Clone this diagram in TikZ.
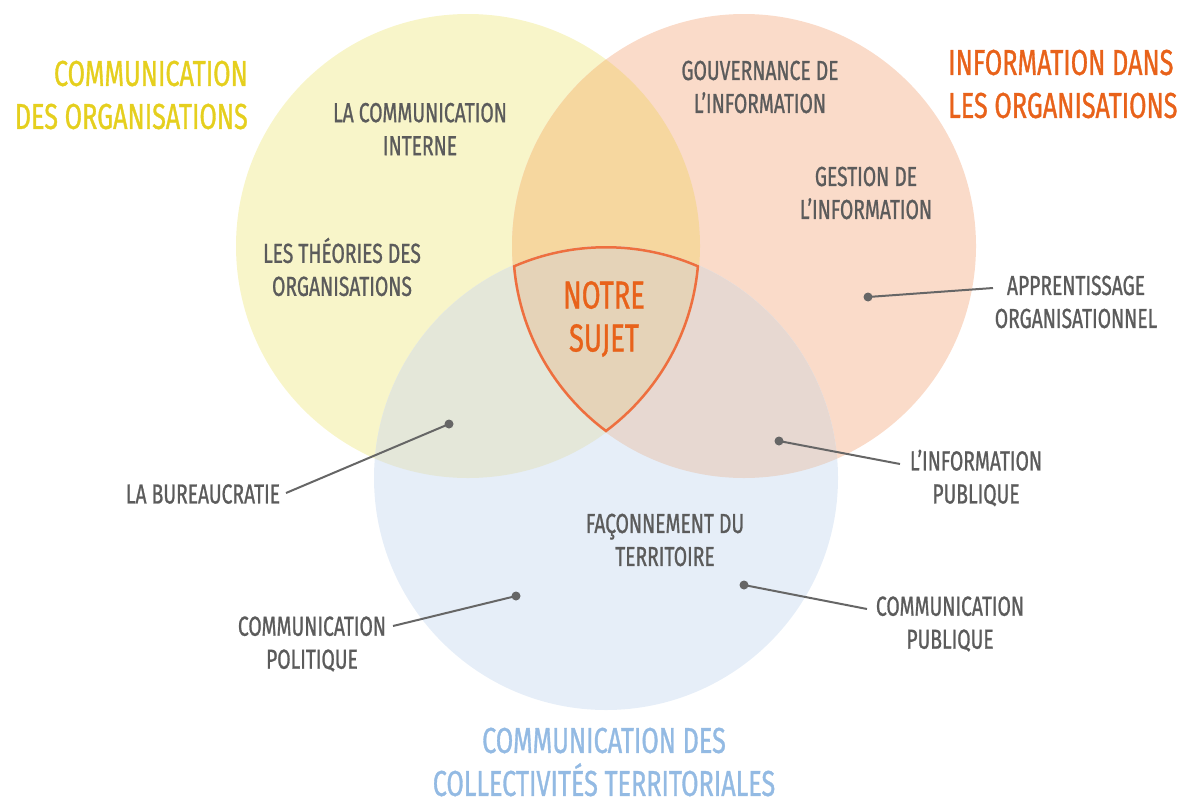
\documentclass[tikz,border=0pt]{standalone}
\usepackage{fontspec}
\setmainfont[FakeStretch=0.70,FakeBold=0.9]{Fira Sans}
\definecolor{yel}{HTML}{F8F5C9}
\definecolor{org}{HTML}{FADBC9}
\definecolor{yo}{HTML}{F6D79F}
\definecolor{blu}{HTML}{E6EEF8}
\definecolor{yb}{HTML}{E4E7D9}
\definecolor{ob}{HTML}{E7D8D1}
\definecolor{tri}{HTML}{E5D3B8}
\definecolor{outl}{HTML}{EE6F3F}
\definecolor{otext}{HTML}{E8621A}
\definecolor{ytext}{HTML}{E5CF1E}
\definecolor{btext}{HTML}{93BAE3}
\definecolor{gtext}{HTML}{5B5B5B}
\definecolor{gline}{HTML}{666666}
\tikzset{
  lbl/.style={text=gtext, align=center, inner sep=0pt, font=\fontsize{27.5}{33}\selectfont},
  ttl/.style={inner sep=0pt, font=\fontsize{36}{43}\selectfont},
  dotn/.style={circle, fill=gline, inner sep=0pt, minimum size=9pt},
  conn/.style={draw=gline, line width=2pt},
}
\begin{document}
\begin{tikzpicture}[x=1pt,y=-1pt]
\useasboundingbox (0,0) rectangle (1185,803);
\coordinate (Y) at (468,246);
\coordinate (O) at (744,246);
\coordinate (B) at (606,478);
\def\R{232}
% circles
\fill[yel] (Y) circle[radius=\R];
\fill[org] (O) circle[radius=\R];
\begin{scope}
  \clip (Y) circle[radius=\R];
  \fill[yo] (O) circle[radius=\R];
\end{scope}
\fill[blu] (B) circle[radius=\R];
\begin{scope}
  \clip (B) circle[radius=\R];
  \fill[yb] (Y) circle[radius=\R];
  \fill[ob] (O) circle[radius=\R];
  \clip (Y) circle[radius=\R];
  \fill[tri] (O) circle[radius=\R];
  \clip (O) circle[radius=\R];
  \draw[outl, line width=5pt] (Y) circle[radius=\R] (O) circle[radius=\R] (B) circle[radius=\R];
\end{scope}
% titles
\node[ttl, text=ytext, align=right, anchor=east] (t1) at (248,95) {COMMUNICATION\\DES ORGANISATIONS};
\node[ttl, text=otext, align=left, anchor=west] (t2) at (948,84) {INFORMATION DANS\\LES ORGANISATIONS};
\node[ttl, text=btext, align=center] (t3) at (604,762) {COMMUNICATION DES\\COLLECTIVITÉS TERRITORIALES};
\node[ttl, text=otext, align=center, font=\fontsize{39}{43}\selectfont] (ns) at (604,319) {NOTRE\\SUJET};
% labels
\node[lbl] (l1) at (420,129) {LA COMMUNICATION\\INTERNE};
\node[lbl] (l2) at (342,267) {LES THÉORIES DES\\ORGANISATIONS};
\node[lbl] (l3) at (760,87) {GOUVERNANCE DE\\L’INFORMATION};
\node[lbl] (l4) at (866,193) {GESTION DE\\L’INFORMATION};
\node[lbl] (l5) at (1076,302) {APPRENTISSAGE\\ORGANISATIONNEL};
\node[lbl] (l6) at (976,478) {L’INFORMATION\\PUBLIQUE};
\node[lbl] (l7) at (203,494) {LA BUREAUCRATIE};
\node[lbl] (l8) at (665,540) {FAÇONNEMENT DU\\TERRITOIRE};
\node[lbl] (l9) at (950,624) {COMMUNICATION\\PUBLIQUE};
\node[lbl] (l10) at (312,644) {COMMUNICATION\\POLITIQUE};
% dots
\node[dotn] (d5) at (868,297) {};
\node[dotn] (d6) at (779,441) {};
\node[dotn] (d7) at (449,424) {};
\node[dotn] (d9) at (744,585) {};
\node[dotn] (d10) at (516,596) {};
% connector ends
\coordinate (e5) at (993,288);
\coordinate (e6) at (900,464);
\coordinate (e7) at (286,493);
\coordinate (e9) at (867,609);
\coordinate (e10) at (393,626);
\draw[conn] (d5.center) -- (e5);
\draw[conn] (d6.center) -- (e6);
\draw[conn] (d7.center) -- (e7);
\draw[conn] (d9.center) -- (e9);
\draw[conn] (d10.center) -- (e10);
\end{tikzpicture}
\end{document}
